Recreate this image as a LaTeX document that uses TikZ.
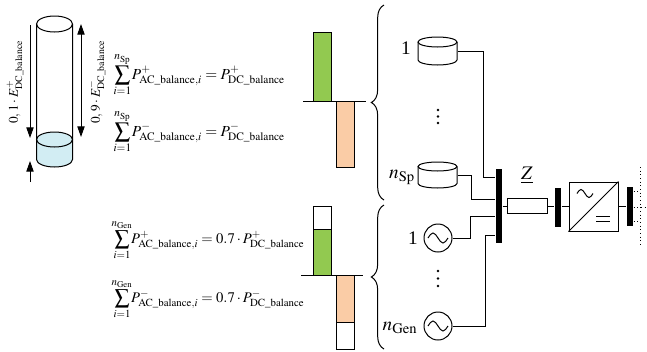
\documentclass[tikz,border=0pt]{standalone}
\usepackage{mathptmx}
\usepackage{mathtools}
\usepackage{fontspec}
\setmainfont{Liberation Serif}
\usetikzlibrary{arrows.meta,decorations.pathreplacing}

\definecolor{waterblue}{RGB}{210,237,243}
\definecolor{posgreen}{RGB}{146,201,80}
\definecolor{negorange}{RGB}{250,204,166}

\tikzset{every picture/.style={line width=0.75pt}}
\tikzset{
  busbar/.style={fill=black,inner sep=0pt,minimum width=4.6pt},
  storage/.style={inner sep=0pt,minimum width=29.25pt,minimum height=20pt},
  gen/.style={circle,draw,minimum size=21pt,inner sep=0pt},
  eqn/.style={anchor=west,inner sep=0pt,font=\fontsize{11.5}{14}\selectfont},
  lbl/.style={font=\Large,inner sep=0pt},
  brc/.style={decorate,decoration={brace,amplitude=9.5pt}},
  bigtip/.style={-{Triangle[length=8pt,width=5.5pt]}},
}

\begin{document}
\begin{tikzpicture}[x=0.75pt,y=0.75pt,yscale=-1,xscale=1]
\useasboundingbox (0,0) rectangle (647,351);

%Shape: Water in tank
\fill[waterblue] (36.5,139.5) -- (36.5,159.5) arc[start angle=180,end angle=0,x radius=18,y radius=7.5] -- (72.5,139.5) arc[start angle=0,end angle=-180,x radius=18,y radius=7.5] -- cycle;
%Shape: Tank
\draw (54.5,24) ellipse[x radius=18,y radius=8];
\draw (54.5,139.5) ellipse[x radius=18,y radius=7.5];
\draw (36.5,24) -- (36.5,159.5) arc[start angle=180,end angle=0,x radius=18,y radius=7.5] -- (72.5,24);
%Straight Lines
\draw[bigtip] (30,25) -- (30,138);
\draw[bigtip] (30,182) -- (30,161);
\draw[{Triangle[length=8pt,width=5.5pt]}-{Triangle[length=8pt,width=5.5pt]}] (81,24) -- (81,137);
% Text Node
\node[rotate=90] (lblDis) at (15,82) {$0,1\cdot E^{+}_{\mathrm{DC\_balance}}$};
% Text Node
\node[rotate=90] (lblCha) at (97,82) {$0,9\cdot E^{-}_{\mathrm{DC\_balance}}$};

% Text Node
\node[eqn] (eqSpPos) at (114,75) {$\displaystyle\sum_{\mathclap{i=1}}^{\mathclap{n_{\mathrm{Sp}}}} P^{+}_{\mathrm{AC\_balance},i} = P^{+}_{\mathrm{DC\_balance}}$};
% Text Node
\node[eqn] (eqSpNeg) at (114,132) {$\displaystyle\sum_{\mathclap{i=1}}^{\mathclap{n_{\mathrm{Sp}}}} P^{-}_{\mathrm{AC\_balance},i} = P^{-}_{\mathrm{DC\_balance}}$};
% Text Node
\node[eqn,font=\fontsize{11}{13}\selectfont] (eqGenPos) at (114,240) {$\displaystyle\sum_{\mathclap{i=1}}^{\mathclap{n_{\mathrm{Gen}}}} P^{+}_{\mathrm{AC\_balance},i} = 0.7\cdot P^{+}_{\mathrm{DC\_balance}}$};
% Text Node
\node[eqn,font=\fontsize{11}{13}\selectfont] (eqGenNeg) at (114,299) {$\displaystyle\sum_{\mathclap{i=1}}^{\mathclap{n_{\mathrm{Gen}}}} P^{-}_{\mathrm{AC\_balance},i} = 0.7\cdot P^{-}_{\mathrm{DC\_balance}}$};

%Shape: Bars storage
\draw[fill=posgreen] (313,32) rectangle (331,101.5);
\draw[fill=negorange] (336,101.5) rectangle (354,167.5);
\draw (303,101.5) -- (366,101.5);
%Shape: Bars generation
\draw (313,206) rectangle (331,229);
\draw[fill=posgreen] (313,229) rectangle (331,275);
\draw[fill=negorange] (336,275) rectangle (354,322);
\draw (336,322) rectangle (354,349);
\draw (301,275) -- (363,275);

%Shape: Braces
\draw[brc] (384,200) -- (384,5);
\draw[brc] (384,349) -- (384,205);

%Shape: Storage units
\node[storage] (store1) at (437.5,51) {};
\draw (437.5,42) ellipse[x radius=19.5,y radius=5];
\draw (418,42) -- (418,60) arc[start angle=180,end angle=0,x radius=19.5,y radius=5] -- (457,42);
\node[storage] (storeN) at (437.5,175) {};
\draw (437.5,166.5) ellipse[x radius=19.5,y radius=4.5];
\draw (418,166.5) -- (418,183.5) arc[start angle=180,end angle=0,x radius=19.5,y radius=4.5] -- (457,166.5);
% Text Node
\node[lbl] (lblSt1) at (406,48) {1};
\node[lbl] (lblStN) at (402,177) {$n_{\mathrm{Sp}}$};
%Shape: dots
\foreach \y in {110,116.5,123} \fill (438,\y) circle[radius=1.4];

%Shape: Generators
\node[gen] (gen1) at (438,238) {};
\node[gen] (genN) at (438,326) {};
\draw (428,238) sin (433,233) cos (438,238) sin (443,243) cos (448,238);
\draw (428,326) sin (433,321) cos (438,326) sin (443,331) cos (448,326);
% Text Node
\node[lbl] (lblGen1) at (413,238) {1};
\node[lbl] (lblGenN) at (400,328) {$n_{\mathrm{Gen}}$};
%Shape: dots
\foreach \y in {271,278.5,286} \fill (438,\y) circle[radius=1.4];

%Shape: Busbars, impedance, converter
\node[busbar,minimum height=55.5pt] (bus1) at (499,206) {};
\node[draw,minimum width=30pt,minimum height=11.25pt,inner sep=0pt] (imp) at (527,206) {};
\node[lbl] (lblImp) at (527,175) {$\underline{Z}$};
\node[busbar,minimum height=29.25pt] (bus2) at (558,207) {};
\node[draw,minimum size=36.75pt,inner sep=0pt] (conv) at (593.5,206.5) {};
\draw (conv.south west) -- (conv.north east);
\draw (577,193.5) sin (581,189.5) cos (585,193.5) sin (589,197.5) cos (593,193.5);
\draw (596,216.5) -- (610,216.5);
\draw (596,221.5) -- (610,221.5);
\node[busbar,minimum height=29.25pt] (bus3) at (630,206.5) {};

%Straight Lines
\coordinate (k1) at (483,177);
\coordinate (k2) at (471,199);
\coordinate (k3) at (470,216);
\coordinate (k4) at (485,235);
\draw (store1.east) -| (k1) -- (k1 -| bus1.west);
\draw (storeN.east) -| (k2) -- (k2 -| bus1.west);
\draw (gen1.east) -| (k3) -- (k3 -| bus1.west);
\draw (genN.east) -| (k4) -- (k4 -| bus1.west);
\draw (imp.west -| bus1.east) -- (imp.west);
\draw (imp.east) -- (imp.east -| bus2.west);
\draw (conv.west -| bus2.east) -- (conv.west);
\draw (conv.east) -- (conv.east -| bus3.west);

%Straight Lines: grid side
\coordinate (gTop) at (640,167);
\coordinate (gBot) at (640,247);
\coordinate (gEnd) at (647,207);
\draw[dotted] (gTop) -- (gBot);
\draw[dotted] (bus3.east |- 0,191) -- (gTop |- 0,191);
\draw[dotted] (bus3.east |- 0,221) -- (gTop |- 0,221);
\draw[dotted] (bus3.east |- gEnd) -- (gEnd);

\end{tikzpicture}
\end{document}
